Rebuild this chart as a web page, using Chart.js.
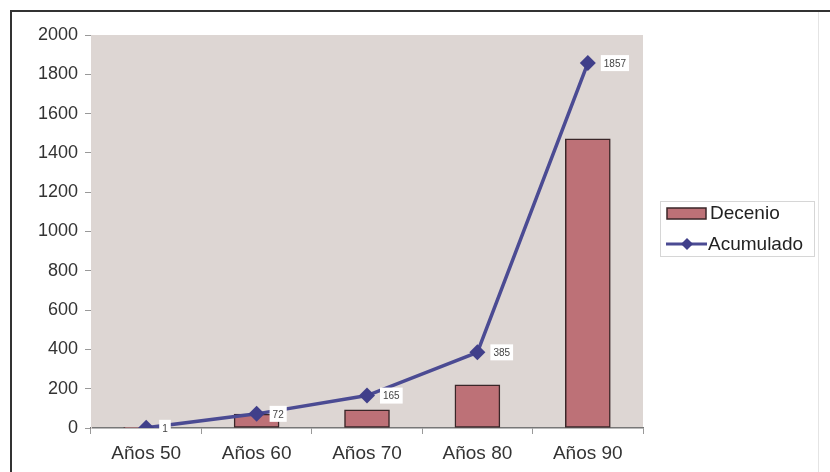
<!DOCTYPE html>
<html>
<head>
<meta charset="utf-8">
<script src="https://cdn.jsdelivr.net/npm/chart.js@4"></script>
<style>
  html, body { margin: 0; padding: 0; background: #fff; }
  #wrap { width: 830px; height: 472px; position: relative; }
</style>
</head>
<body>
<div id="wrap"><canvas id="chart" width="830" height="472"></canvas></div>
<script>
// ---------- data ----------
const categories = ["Años 50", "Años 60", "Años 70", "Años 80", "Años 90"];
const decenio    = [1, 71, 93, 220, 1472];
const acumulado  = [1, 72, 165, 385, 1857];
const yTicks     = [0, 200, 400, 600, 800, 1000, 1200, 1400, 1600, 1800, 2000];

const FONT = "'Liberation Sans', Arial, sans-serif";

/* ---------- frame, plot background, value boxes, legend ---------- */
const decor = {
  id: "decor",
  beforeDraw(chart) {
    const { ctx, chartArea: a } = chart;
    ctx.save();
    ctx.fillStyle = "#ddd6d3";
    ctx.fillRect(a.left, a.top, a.right - a.left, a.bottom - a.top);
    ctx.restore();
  },
  afterDraw(chart) {
    const { ctx } = chart;
    ctx.save();
    // outer frame
    ctx.strokeStyle = "#333";
    ctx.lineWidth = 2;
    ctx.beginPath();
    ctx.moveTo(11, 472); ctx.lineTo(11, 11); ctx.lineTo(830, 11);
    ctx.stroke();
    ctx.strokeStyle = "#e4e4e4";
    ctx.lineWidth = 1;
    ctx.beginPath();
    ctx.moveTo(818.5, 12); ctx.lineTo(818.5, 472);
    ctx.stroke();

    // value labels for the cumulative line
    const meta = chart.getDatasetMeta(1);
    ctx.font = "10px " + FONT;
    ctx.textBaseline = "middle";
    meta.data.forEach((pt, i) => {
      const txt = String(acumulado[i]);
      const w = ctx.measureText(txt).width + 6;
      const x = pt.x + 13, y = pt.y;
      ctx.fillStyle = "#fff";
      ctx.fillRect(x, y - 8, w, 16);
      ctx.fillStyle = "#444";
      ctx.fillText(txt, x + 3, y + 1);
    });

    // legend box
    ctx.strokeStyle = "#d6d6d6";
    ctx.lineWidth = 1;
    ctx.strokeRect(660.5, 201.5, 154, 55);
    const ds = chart.data.datasets;
    ctx.fillStyle = ds[0].backgroundColor;
    ctx.fillRect(667, 208, 39, 11);
    ctx.strokeStyle = ds[0].borderColor;
    ctx.lineWidth = 1.5;
    ctx.strokeRect(667, 208, 39, 11);
    ctx.strokeStyle = ds[1].borderColor;
    ctx.lineWidth = 3;
    ctx.beginPath();
    ctx.moveTo(666, 244); ctx.lineTo(707, 244);
    ctx.stroke();
    ctx.fillStyle = ds[1].pointBackgroundColor;
    ctx.beginPath();
    ctx.moveTo(687, 238); ctx.lineTo(693, 244); ctx.lineTo(687, 250); ctx.lineTo(681, 244);
    ctx.closePath(); ctx.fill();
    ctx.fillStyle = "#222";
    ctx.font = "19px " + FONT;
    ctx.textBaseline = "middle";
    ctx.fillText(ds[0].label, 710, 214);
    ctx.fillText(ds[1].label, 708, 245);
    ctx.restore();
  }
};

new Chart(document.getElementById("chart"), {
  data: {
    labels: categories,
    datasets: [
      {
        type: "bar",
        label: "Decenio",
        data: decenio,
        backgroundColor: "#bd7177",
        borderColor: "#3a2628",
        borderWidth: 1.5,
        borderSkipped: false,
        barThickness: 45,
        order: 2
      },
      {
        type: "line",
        label: "Acumulado",
        data: acumulado,
        borderColor: "#4b4b93",
        borderWidth: 3.5,
        pointStyle: "rectRot",
        pointRadius: 8,
        pointBackgroundColor: "#403f8a",
        pointBorderColor: "#403f8a",
        pointBorderWidth: 0,
        tension: 0,
        order: 1
      }
    ]
  },
  options: {
    responsive: false,
    animation: false,
    events: [],
    layout: { padding: { top: 35, right: 187, bottom: 0, left: 0 } },
    plugins: { legend: { display: false }, tooltip: { enabled: false } },
    scales: {
      x: {
        offset: true,
        grid: { offset: true, drawOnChartArea: false, tickLength: 6, color: "#999" },
        border: { color: "#777", width: 1.5 },
        ticks: { color: "#333", padding: 8, font: { family: FONT, size: 19 } },
        afterFit(s) { s.height = 44; }
      },
      y: {
        min: 0,
        max: 2000,
        afterBuildTicks(s) { s.ticks = yTicks.map(v => ({ value: v })); },
        grid: { drawOnChartArea: false, tickLength: 6, color: "#999" },
        border: { color: "#ddd6d3" },
        ticks: {
          color: "#333", padding: 7, font: { family: FONT, size: 18 },
          callback: v => String(v)
        },
        afterFit(s) { s.width = 91; }
      }
    }
  },
  plugins: [decor]
});
</script>
</body>
</html>
